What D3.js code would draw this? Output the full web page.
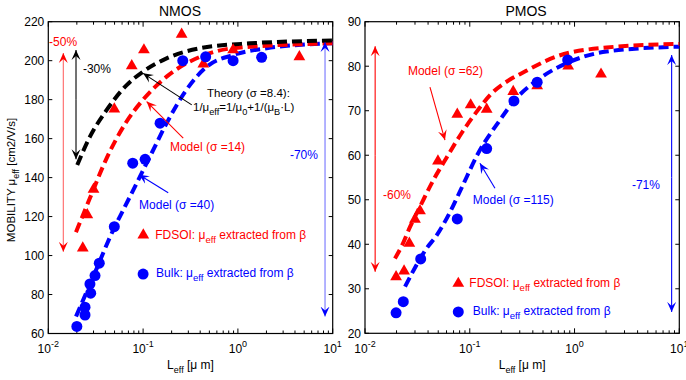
<!DOCTYPE html>
<html>
<head>
<meta charset="utf-8">
<script src="https://cdn.jsdelivr.net/npm/d3@7"></script>
<style>
  body { margin: 0; background: #fff; }
  svg { font-family: "Liberation Sans", Arial, sans-serif; }
</style>
</head>
<body>
<div id="chart"></div>
<script>
// ---- data: [L (um), mobility] ----
const nmosFdsoi = [[0.0231,103.8],[0.0258,120.9],[0.030,134],[0.0497,175.2],[0.0759,197.4],[0.102,205.5],
                   [0.255,213.5],[0.432,198.3],[0.89,205.5],[4.45,202]];
const nmosBulk = [[0.020,63.6],[0.0244,69.5],[0.0244,73.5],[0.028,80.7],[0.0275,85.4],[0.0311,89.7],[0.0345,96.1],
                  [0.0497,114.8],[0.0777,147.4],[0.105,149.4],[0.151,167.9],[0.262,200],[0.457,202],[0.89,200],[1.78,201.7]];
const nmosTheory = [[0.0202,146.5],[0.0275,161],[0.0413,174.7],[0.0671,187.5],[0.1,194.4],[0.177,201.2],[0.40,206.4],[1.34,208.9],[10,210.3]];
const nmosModelFdsoi = [[0.0196,112],[0.0275,129.5],[0.0413,150],[0.067,168.8],[0.1,180],[0.177,191.8],[0.4,202],[0.89,206.4],[10,208.9]];
const nmosModelBulk = [[0.0196,68.7],[0.0309,91],[0.0485,113.2],[0.0618,123.4],[0.0855,137.1],[0.123,152.5],[0.177,167.9],
                       [0.277,184],[0.469,196.9],[0.89,202.9],[2.01,206.4],[10,208.9]];

const pmosFdsoi = [[0.0198,32.7],[0.0236,34.0],[0.0265,40.2],[0.030,45.6],[0.0335,47.5],[0.0497,58.7],[0.076,69.2],
                   [0.102,71.3],[0.145,70.3],[0.26,74.3],[0.44,75.6],[0.87,80],[1.79,78.2]];
const pmosBulk = [[0.0198,24.6],[0.0232,27.1],[0.034,36.7],[0.076,45.7],[0.145,61.5],[0.264,72.2],[0.44,76.4],[0.86,81.4]];
const pmosModelFdsoi = [[0.0193,36.8],[0.0224,39.6],[0.0269,43.9],[0.0347,49.2],[0.0449,54.4],[0.0602,59.5],[0.0837,65],
                        [0.12,70.2],[0.156,73.5],[0.242,77],[0.301,78.2],[0.675,82.2],[2.02,84.2],[10,85]];
const pmosModelBulk = [[0.0241,30.5],[0.0388,39.1],[0.0483,42],[0.0647,47.2],[0.0837,52.7],[0.12,60.4],[0.194,67.9],
                       [0.26,72],[0.468,77.3],[0.904,81],[2.02,83.3],[10,84.4]];

const xMajor = [0.01, 0.1, 1, 10];
const xMajorExp = ["-2", "-1", "0", "1"];
const nmosYTicks = [60, 80, 100, 120, 140, 160, 180, 200, 220];
const pmosYTicks = [20, 30, 40, 50, 60, 70, 80, 90];

const RED = "#ff0000", BLUE = "#0000ff", BLACK = "#000";

const width = 686, height = 380;
const svg = d3.select("#chart").append("svg")
  .attr("width", width).attr("height", height);

const defs = svg.append("defs");
[["red", RED], ["blue", BLUE], ["black", BLACK]].forEach(([n, c]) => {
  defs.append("marker")
    .attr("id", "head-" + n)
    .attr("viewBox", "-10 -5 12 10")
    .attr("refX", 0).attr("refY", 0)
    .attr("markerUnits", "userSpaceOnUse")
    .attr("markerWidth", 12).attr("markerHeight", 10)
    .attr("orient", "auto-start-reverse")
    .append("path")
    .attr("d", "M0,0 L-10,-4.5 L-6,0 L-10,4.5 Z")
    .attr("fill", c);
});

function drawPanel(cfg) {
  const x = d3.scaleLog().domain([0.01, 10]).range([cfg.left, cfg.right]);
  const y = d3.scaleLinear().domain(cfg.yDomain).range([cfg.bottom, cfg.top]);
  const g = svg.append("g");

  // frame
  g.append("rect")
    .attr("x", cfg.left).attr("y", cfg.top)
    .attr("width", cfg.right - cfg.left).attr("height", cfg.bottom - cfg.top)
    .attr("fill", "none").attr("stroke", "#000").attr("stroke-width", 1.2);

  // log ticks, inward, top and bottom
  const minor = [];
  for (let d = 0.01; d < 10; d *= 10)
    for (let k = 2; k <= 9; k++) minor.push(d * k);
  const tk = g.append("g").attr("stroke", "#000").attr("stroke-width", 1);
  xMajor.forEach(v => {
    tk.append("line").attr("x1", x(v)).attr("x2", x(v)).attr("y1", cfg.bottom).attr("y2", cfg.bottom - 5);
    tk.append("line").attr("x1", x(v)).attr("x2", x(v)).attr("y1", cfg.top).attr("y2", cfg.top + 5);
  });
  minor.forEach(v => {
    tk.append("line").attr("x1", x(v)).attr("x2", x(v)).attr("y1", cfg.bottom).attr("y2", cfg.bottom - 3);
    tk.append("line").attr("x1", x(v)).attr("x2", x(v)).attr("y1", cfg.top).attr("y2", cfg.top + 3);
  });
  cfg.yTicks.forEach(v => {
    tk.append("line").attr("x1", cfg.left).attr("x2", cfg.left + 4).attr("y1", y(v)).attr("y2", y(v));
    tk.append("line").attr("x1", cfg.right).attr("x2", cfg.right - 4).attr("y1", y(v)).attr("y2", y(v));
  });

  // tick labels
  cfg.yTicks.forEach(v => {
    g.append("text").attr("x", cfg.left - 4).attr("y", y(v) + 4.5)
      .attr("text-anchor", "end").attr("font-size", 12).text(v);
  });
  xMajor.forEach((v, i) => {
    const t = g.append("text").attr("x", x(v)).attr("y", 353)
      .attr("text-anchor", "middle").attr("font-size", 12);
    t.append("tspan").text("10");
    t.append("tspan").attr("dy", -6).attr("font-size", 9).text(xMajorExp[i]);
  });

  // title + x label
  g.append("text").attr("x", cfg.titleX).attr("y", 16).attr("text-anchor", "middle")
    .attr("font-size", 14).text(cfg.title);
  const xl = g.append("text").attr("x", (cfg.left + cfg.right) / 2).attr("y", 369)
    .attr("text-anchor", "middle").attr("font-size", 12);
  xl.append("tspan").text("L");
  xl.append("tspan").attr("dy", 4).attr("font-size", 9).text("eff");
  xl.append("tspan").attr("dy", -4).text(" [\u03bc m]");

  // dashed model curves
  const line = d3.line().x(d => x(d[0])).y(d => y(d[1])).curve(d3.curveMonotoneX);
  cfg.curves.forEach(c => {
    g.append("path").datum(c.data).attr("d", line)
      .attr("fill", "none").attr("stroke", c.color)
      .attr("stroke-width", 4).attr("stroke-dasharray", "10,5");
  });

  // points
  const tri = d3.symbol().type(d3.symbolTriangle).size(60);
  g.append("g").selectAll("path").data(cfg.fdsoi).join("path")
    .attr("d", tri).attr("fill", RED)
    .attr("transform", d => `translate(${x(d[0])},${y(d[1])})`);
  g.append("g").selectAll("circle").data(cfg.bulk).join("circle")
    .attr("cx", d => x(d[0])).attr("cy", d => y(d[1])).attr("r", 5.5).attr("fill", BLUE);

  // arrows
  cfg.arrows.forEach(a => {
    g.append("line")
      .attr("x1", x(a.from[0])).attr("y1", y(a.from[1]))
      .attr("x2", x(a.to[0])).attr("y2", y(a.to[1]))
      .attr("stroke", a.color).attr("stroke-width", 1.1)
      .attr("stroke-opacity", a.opacity || 1)
      .attr("marker-end", `url(#head-${a.name})`);
  });

  // texts
  cfg.labels.forEach(l => {
    const fs = l.size || 12;
    const t = g.append("text").attr("x", x(l.at[0])).attr("y", y(l.at[1]))
      .attr("font-size", fs).attr("fill", l.color);
    l.parts.forEach(([s, sub], i) => {
      const ts = t.append("tspan").text(s);
      if (sub) ts.attr("dy", 3.5).attr("font-size", fs * 0.8);
      else if (i > 0 && l.parts[i - 1][1]) ts.attr("dy", -3.5);
    });
  });

  // legend keys
  g.append("path").attr("d", tri).attr("fill", RED)
    .attr("transform", `translate(${x(cfg.legTri[0])},${y(cfg.legTri[1])})`);
  g.append("circle").attr("cx", x(cfg.legCirc[0])).attr("cy", y(cfg.legCirc[1]))
    .attr("r", 5.5).attr("fill", BLUE);
}

drawPanel({
  left: 48.3, right: 332.7, top: 21.7, bottom: 333.5,
  yDomain: [60, 220], yTicks: nmosYTicks, title: "NMOS", titleX: 180,
  fdsoi: nmosFdsoi, bulk: nmosBulk,
  curves: [
    {data: nmosModelBulk, color: BLUE},
    {data: nmosModelFdsoi, color: RED},
    {data: nmosTheory, color: BLACK}
  ],
  arrows: [
    {from: [0.0144, 150], to: [0.0144, 204], color: RED, name: "red", opacity: 0.6},
    {from: [0.0144, 150], to: [0.0144, 101.9], color: RED, name: "red", opacity: 0.6},
    {from: [0.0196, 180], to: [0.0196, 205.5], color: BLACK, name: "black"},
    {from: [0.0196, 180], to: [0.0196, 149.4], color: BLACK, name: "black"},
    {from: [8.3, 140], to: [8.3, 209.6], color: BLUE, name: "blue", opacity: 0.55},
    {from: [8.3, 140], to: [8.3, 68.7], color: BLUE, name: "blue", opacity: 0.55},
    {from: [0.326, 177.3], to: [0.1, 193.5], color: BLACK, name: "black"},
    {from: [0.265, 160.2], to: [0.109, 179], color: RED, name: "red"},
    {from: [0.184, 132.2], to: [0.0906, 141.5], color: BLUE, name: "blue"}
  ],
  labels: [
    {at: [0.0102, 207.5], color: RED, parts: [["-50%"]]},
    {at: [0.0232, 193.7], color: BLACK, parts: [["-30%"]]},
    {at: [3.54, 149.4], color: BLUE, parts: [["-70%"]]},
    {at: [0.472, 181.2], color: BLACK, size: 11.5, parts: [["Theory (\u03c3 =8.4):"]]},
    {at: [0.336, 174], color: BLACK, size: 11.5, parts: [["1/\u03bc"], ["eff", 1], ["=1/\u03bc"], ["0", 1], ["+1/(\u03bc"], ["B", 1], ["\u00b7L)"]]},
    {at: [0.192, 153.8], color: RED, parts: [["Model (\u03c3 =14)"]]},
    {at: [0.0906, 123.8], color: BLUE, parts: [["Model (\u03c3 =40)"]]},
    {at: [0.134, 108.3], color: RED, parts: [["FDSOI: \u03bc"], ["eff", 1], [" extracted from \u03b2"]]},
    {at: [0.137, 88.8], color: BLUE, parts: [["Bulk: \u03bc"], ["eff", 1], [" extracted from \u03b2"]]}
  ],
  legTri: [0.1005, 110.5], legCirc: [0.1, 90.5]
});

drawPanel({
  left: 365, right: 679.3, top: 21.7, bottom: 333.3,
  yDomain: [20, 90], yTicks: pmosYTicks, title: "PMOS", titleX: 526,
  fdsoi: pmosFdsoi, bulk: pmosBulk,
  curves: [
    {data: pmosModelBulk, color: BLUE},
    {data: pmosModelFdsoi, color: RED}
  ],
  arrows: [
    {from: [0.0125, 60], to: [0.0125, 84.5], color: RED, name: "red"},
    {from: [0.0125, 60], to: [0.0125, 33.8], color: RED, name: "red"},
    {from: [8.45, 55], to: [8.45, 82.5], color: BLUE, name: "blue"},
    {from: [8.45, 55], to: [8.45, 24.8], color: BLUE, name: "blue"},
    {from: [0.0417, 75.3], to: [0.058, 63.4], color: RED, name: "red"},
    {from: [0.174, 52.6], to: [0.125, 58.2], color: BLUE, name: "blue"}
  ],
  labels: [
    {at: [0.01486, 50.1], color: RED, parts: [["-60%"]]},
    {at: [3.53, 52.4], color: BLUE, parts: [["-71%"]]},
    {at: [0.0257, 78], color: RED, parts: [["Model (\u03c3 =62)"]]},
    {at: [0.107, 49], color: BLUE, parts: [["Model (\u03c3 =115)"]]},
    {at: [0.099, 30.4], color: RED, parts: [["FDSOI: \u03bc"], ["eff", 1], [" extracted from \u03b2"]]},
    {at: [0.107, 24.1], color: BLUE, parts: [["Bulk: \u03bc"], ["eff", 1], [" extracted from \u03b2"]]}
  ],
  legTri: [0.0777, 31.2], legCirc: [0.0777, 24.8]
});

// y axis label
const yl = svg.append("text").attr("transform", "translate(15,180) rotate(-90)")
  .attr("text-anchor", "middle").attr("font-size", 11.5);
yl.append("tspan").text("MOBILITY \u03bc");
yl.append("tspan").attr("dy", 4).attr("font-size", 9).text("eff");
yl.append("tspan").attr("dy", -4).text(" [cm2/V/s]");
</script>
</body>
</html>
